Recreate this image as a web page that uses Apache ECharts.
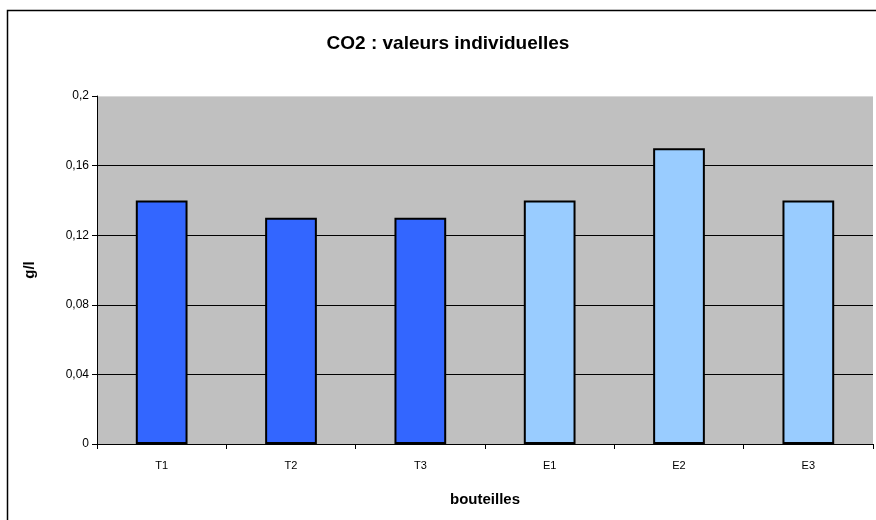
<!DOCTYPE html>
<html lang="fr">
<head>
    <meta charset="UTF-8">
    <title>CO2 : valeurs individuelles</title>
    <script src="https://cdn.jsdelivr.net/npm/echarts@6/dist/echarts.min.js"></script>
    <style>
        html, body { margin: 0; padding: 0; background: #fff; }
    </style>
</head>
<body>
<div id="chartContainer" style="width:876px;height:520px;"></div>
<script type="text/javascript">
    var categories = ['T1', 'T2', 'T3', 'E1', 'E2', 'E3'];
    var values = [0.14, 0.13, 0.13, 0.14, 0.17, 0.14];
    var barColors = ['#3366FF', '#3366FF', '#3366FF', '#99CCFF', '#99CCFF', '#99CCFF'];

    var chartDom = document.getElementById('chartContainer');
    var myChart = echarts.init(chartDom);
    var font = 'Arial, "Liberation Sans", sans-serif';

    var option = {
        animation: false,
        title: {
            text: 'CO2 : valeurs individuelles',
            left: 443,
            top: 29,
            textAlign: 'center',
            textStyle: { color: '#000', fontSize: 19, fontWeight: 'bold', fontFamily: font }
        },
        // cadre extérieur
        graphic: [{
            type: 'rect',
            shape: { x: 7.5, y: 10.5, width: 880, height: 520 },
            style: { fill: 'none', stroke: '#000', lineWidth: 1.5 },
            silent: true
        }],
        grid: {
            left: 97, right: 3, top: 96, bottom: 76,
            show: true,
            backgroundColor: '#C0C0C0',
            borderWidth: 0
        },
        xAxis: {
            type: 'category',
            data: categories,
            name: 'bouteilles',
            nameLocation: 'middle',
            nameGap: 48,
            nameTextStyle: { color: '#000', fontSize: 15, fontWeight: 'bold', fontFamily: font },
            axisLine: { lineStyle: { color: '#000', width: 1 } },
            axisTick: { show: true, alignWithLabel: false, length: 5, lineStyle: { color: '#000' } },
            axisLabel: { color: '#000', fontSize: 11, margin: 16, fontFamily: font },
            splitLine: { show: false }
        },
        yAxis: {
            type: 'value',
            min: 0,
            max: 0.2,
            interval: 0.04,
            name: 'g/l',
            nameLocation: 'middle',
            nameGap: 60,
            nameRotate: 90,
            nameTextStyle: { color: '#000', fontSize: 15, fontWeight: 'bold', fontFamily: font },
            axisLine: { show: true, lineStyle: { color: '#000', width: 1 } },
            axisTick: { show: true, length: 5, lineStyle: { color: '#000' } },
            axisLabel: {
                color: '#000', fontSize: 12, margin: 8, fontFamily: font,
                formatter: function (v) {
                    return String(Math.round(v * 100) / 100).replace('.', ',');
                }
            },
            splitLine: {
                show: true,
                lineStyle: { color: ['#000', '#000', '#000', '#000', '#000', '#D8D8D8'], width: 1 }
            }
        },
        series: [{
            type: 'bar',
            barWidth: '40%',
            data: values.map(function (v, i) {
                return { value: v, itemStyle: { color: barColors[i] } };
            }),
            itemStyle: { borderColor: '#000', borderWidth: 2 }
        }]
    };
    option && myChart.setOption(option);
</script>
</body>
</html>
